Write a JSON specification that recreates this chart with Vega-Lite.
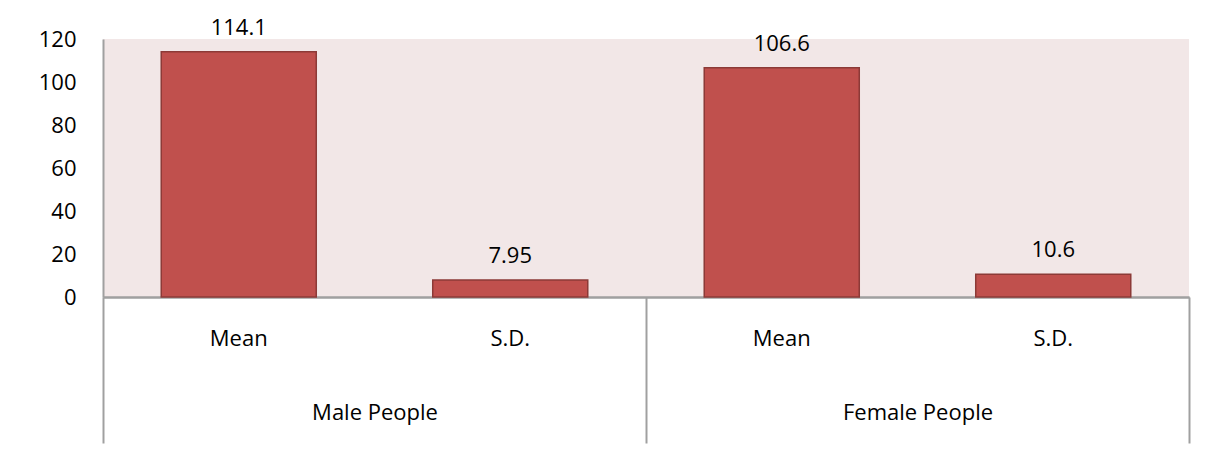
{
  "$schema": "https://vega.github.io/schema/vega-lite/v6.json",
  "autosize": "none",
  "width": 1086,
  "height": 258,
  "padding": {"left": 103, "top": 39, "right": 18, "bottom": 153},
  "background": "white",
  "config": {
    "view": {"fill": "#F2E7E7", "stroke": null},
    "font": "Open Sans",
    "axis": {"labelFont": "Open Sans", "labelFontSize": 22, "labelColor": "#000000", "grid": false, "domainColor": "#A0A0A0", "domainWidth": 2, "title": null}
  },
  "data": {
    "values": [
      {"key": "Male|Mean", "stat": "Mean", "group": "Male People", "value": 114.1},
      {"key": "Male|SD", "stat": "S.D.", "group": "Male People", "value": 7.95},
      {"key": "Female|Mean", "stat": "Mean", "group": "Female People", "value": 106.6},
      {"key": "Female|SD", "stat": "S.D.", "group": "Female People", "value": 10.6}
    ]
  },
  "layer": [
    {
      "encoding": {
        "x": {
          "field": "key", "type": "nominal", "sort": null,
          "scale": {"type": "band", "paddingInner": 0.429, "paddingOuter": 0.2145},
          "axis": {"ticks": false, "labelPadding": 31, "labelAngle": 0, "labelExpr": "indexof(datum.value, 'Mean') >= 0 ? 'Mean' : 'S.D.'"}
        },
        "y": {
          "field": "value", "type": "quantitative",
          "scale": {"domain": [0, 120], "nice": false},
          "axis": {"values": [0, 20, 40, 60, 80, 100, 120], "ticks": false, "labelPadding": 27}
        }
      },
      "layer": [
        {
          "mark": {"type": "bar", "color": "#C0504D", "stroke": "#8C3A37", "strokeWidth": 1.5}
        },
        {
          "mark": {"type": "text", "fontSize": 22, "font": "Open Sans", "color": "#000000", "baseline": "alphabetic", "dy": -17},
          "encoding": {
            "text": {"field": "value", "type": "quantitative", "format": "~g"}
          }
        }
      ]
    },
    {
      "mark": {"type": "point", "opacity": 0},
      "encoding": {
        "x": {
          "field": "group", "type": "nominal", "sort": null,
          "scale": {"type": "band", "paddingInner": 0, "paddingOuter": 0},
          "axis": {"orient": "bottom", "ticks": true, "tickBand": "extent", "tickSize": 146, "tickColor": "#A0A0A0", "tickWidth": 2, "labelPadding": -41, "labelAngle": 0, "domain": true}
        }
      }
    }
  ],
  "resolve": {"scale": {"x": "independent"}, "axis": {"x": "independent"}}
}
